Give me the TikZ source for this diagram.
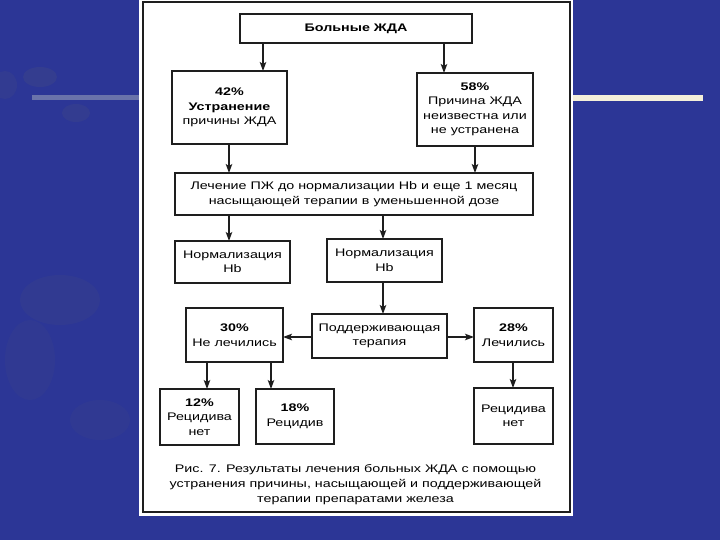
\documentclass[tikz,border=0pt]{standalone}
\usepackage{fontspec}
\setmainfont{Liberation Sans}[FakeStretch=1.3]
\usepackage{tikz}
\usetikzlibrary{arrows.meta}
\definecolor{SlideBlue}{HTML}{2C3696}
\definecolor{SlideBlob}{HTML}{363F8E}
\definecolor{SlideLine}{HTML}{6A73AA}
\definecolor{SlideBar}{HTML}{F4EFD9}
\definecolor{PageLine}{HTML}{1E1E1E}

\begin{document}
\begin{tikzpicture}[x=1pt,y=-1pt,>={Stealth[length=9pt,width=6.5pt,inset=2pt]}]
  \tikzstyle{fbox}=[draw=PageLine,line width=1.2pt,align=center,
    inner sep=2pt,outer sep=0pt,
    font=\fontsize{11}{14.5}\selectfont]
  \tikzstyle{fboxthick}=[fbox,line width=2pt]
  \tikzstyle{arr}=[->,line width=1.2pt,color=PageLine]
  % slide background
  \useasboundingbox (0,0) rectangle (720,540);
  \fill[SlideBlue] (0,0) rectangle (720,540);
  \fill[SlideBlob,opacity=0.8] (40,77) ellipse (17 and 10);
  \fill[SlideBlob,opacity=0.7] (76,113) ellipse (14 and 9);
  \fill[SlideBlob,opacity=0.6] (5,85) ellipse (12 and 14);
  \fill[SlideBlob,opacity=0.5] (60,300) ellipse (40 and 25);
  \fill[SlideBlob,opacity=0.4] (30,360) ellipse (25 and 40);
  \fill[SlideBlob,opacity=0.4] (100,420) ellipse (30 and 20);
  \draw[SlideLine,line width=5pt] (32,97.5) -- (139,97.5);
  \fill[SlideBar] (573,95) rectangle (703,101);
  % page
  \fill[white] (139,0) rectangle (573,516);
  \draw[PageLine,line width=1.5pt] (143,2) rectangle (570,512);
  % boxes
  \node[fbox,minimum width=232pt,minimum height=29pt] (top) at (356,28.5)
    {\textbf{Больные ЖДА}};
  \node[fboxthick,minimum width=115pt,minimum height=73pt] (n42) at (229.5,107.5)
    {\textbf{42\%}\\\textbf{Устранение}\\причины ЖДА};
  \node[fbox,minimum width=116pt,minimum height=73pt] (n58) at (475,109.5)
    {\textbf{58\%}\\Причина ЖДА\\неизвестна или\\не устранена};
  \node[fboxthick,minimum width=358pt,minimum height=42pt] (treat) at (354,194)
    {Лечение ПЖ до нормализации Hb и еще 1 месяц\\насыщающей терапии в уменьшенной дозе};
  \node[fbox,minimum width=115pt,minimum height=42pt] (normL) at (232.5,262)
    {Нормализация\\Hb};
  \node[fboxthick,minimum width=115pt,minimum height=43pt] (normR) at (384.5,260.5)
    {Нормализация\\Hb};
  \node[fboxthick,minimum width=135pt,minimum height=44pt] (supp) at (379.5,336)
    {Поддерживающая\\терапия};
  \node[fbox,minimum width=97pt,minimum height=54pt] (n30) at (234.5,335)
    {\textbf{30\%}\\Не лечились};
  \node[fbox,minimum width=79pt,minimum height=54pt] (n28) at (513.5,335)
    {\textbf{28\%}\\Лечились};
  \node[fbox,minimum width=79pt,minimum height=56pt] (n12) at (199.5,417)
    {\textbf{12\%}\\Рецидива\\нет};
  \node[fbox,minimum width=78pt,minimum height=55pt] (n18) at (295,416.5)
    {\textbf{18\%}\\Рецидив};
  \node[fbox,minimum width=79pt,minimum height=56pt] (nNo) at (513.5,416)
    {Рецидива\\нет};
  \node[align=center,font=\fontsize{11}{15}\selectfont] (cap) at (355.5,485)
    {Рис. 7. Результаты лечения больных ЖДА с помощью\\
     устранения причины, насыщающей и поддерживающей\\
     терапии препаратами железа};
  % arrows
  \draw[arr] (top.south -| 263,0) -- (n42.north -| 263,0);
  \draw[arr] (top.south -| 444,0) -- (n58.north -| 444,0);
  \draw[arr] (n42.south -| 229,0) -- (treat.north -| 229,0);
  \draw[arr] (n58.south -| 475,0) -- (treat.north -| 475,0);
  \draw[arr] (treat.south -| 229,0) -- (normL.north -| 229,0);
  \draw[arr] (treat.south -| 383,0) -- (normR.north -| 383,0);
  \draw[arr] (normR.south -| 383,0) -- (supp.north -| 383,0);
  \draw[arr] (supp.west |- 0,337) -- (n30.east |- 0,337);
  \draw[arr] (supp.east |- 0,337) -- (n28.west |- 0,337);
  \draw[arr] (n30.south -| 207,0) -- (n12.north -| 207,0);
  \draw[arr] (n30.south -| 271,0) -- (n18.north -| 271,0);
  \draw[arr] (n28.south -| 513,0) -- (nNo.north -| 513,0);
\end{tikzpicture}
\end{document}
